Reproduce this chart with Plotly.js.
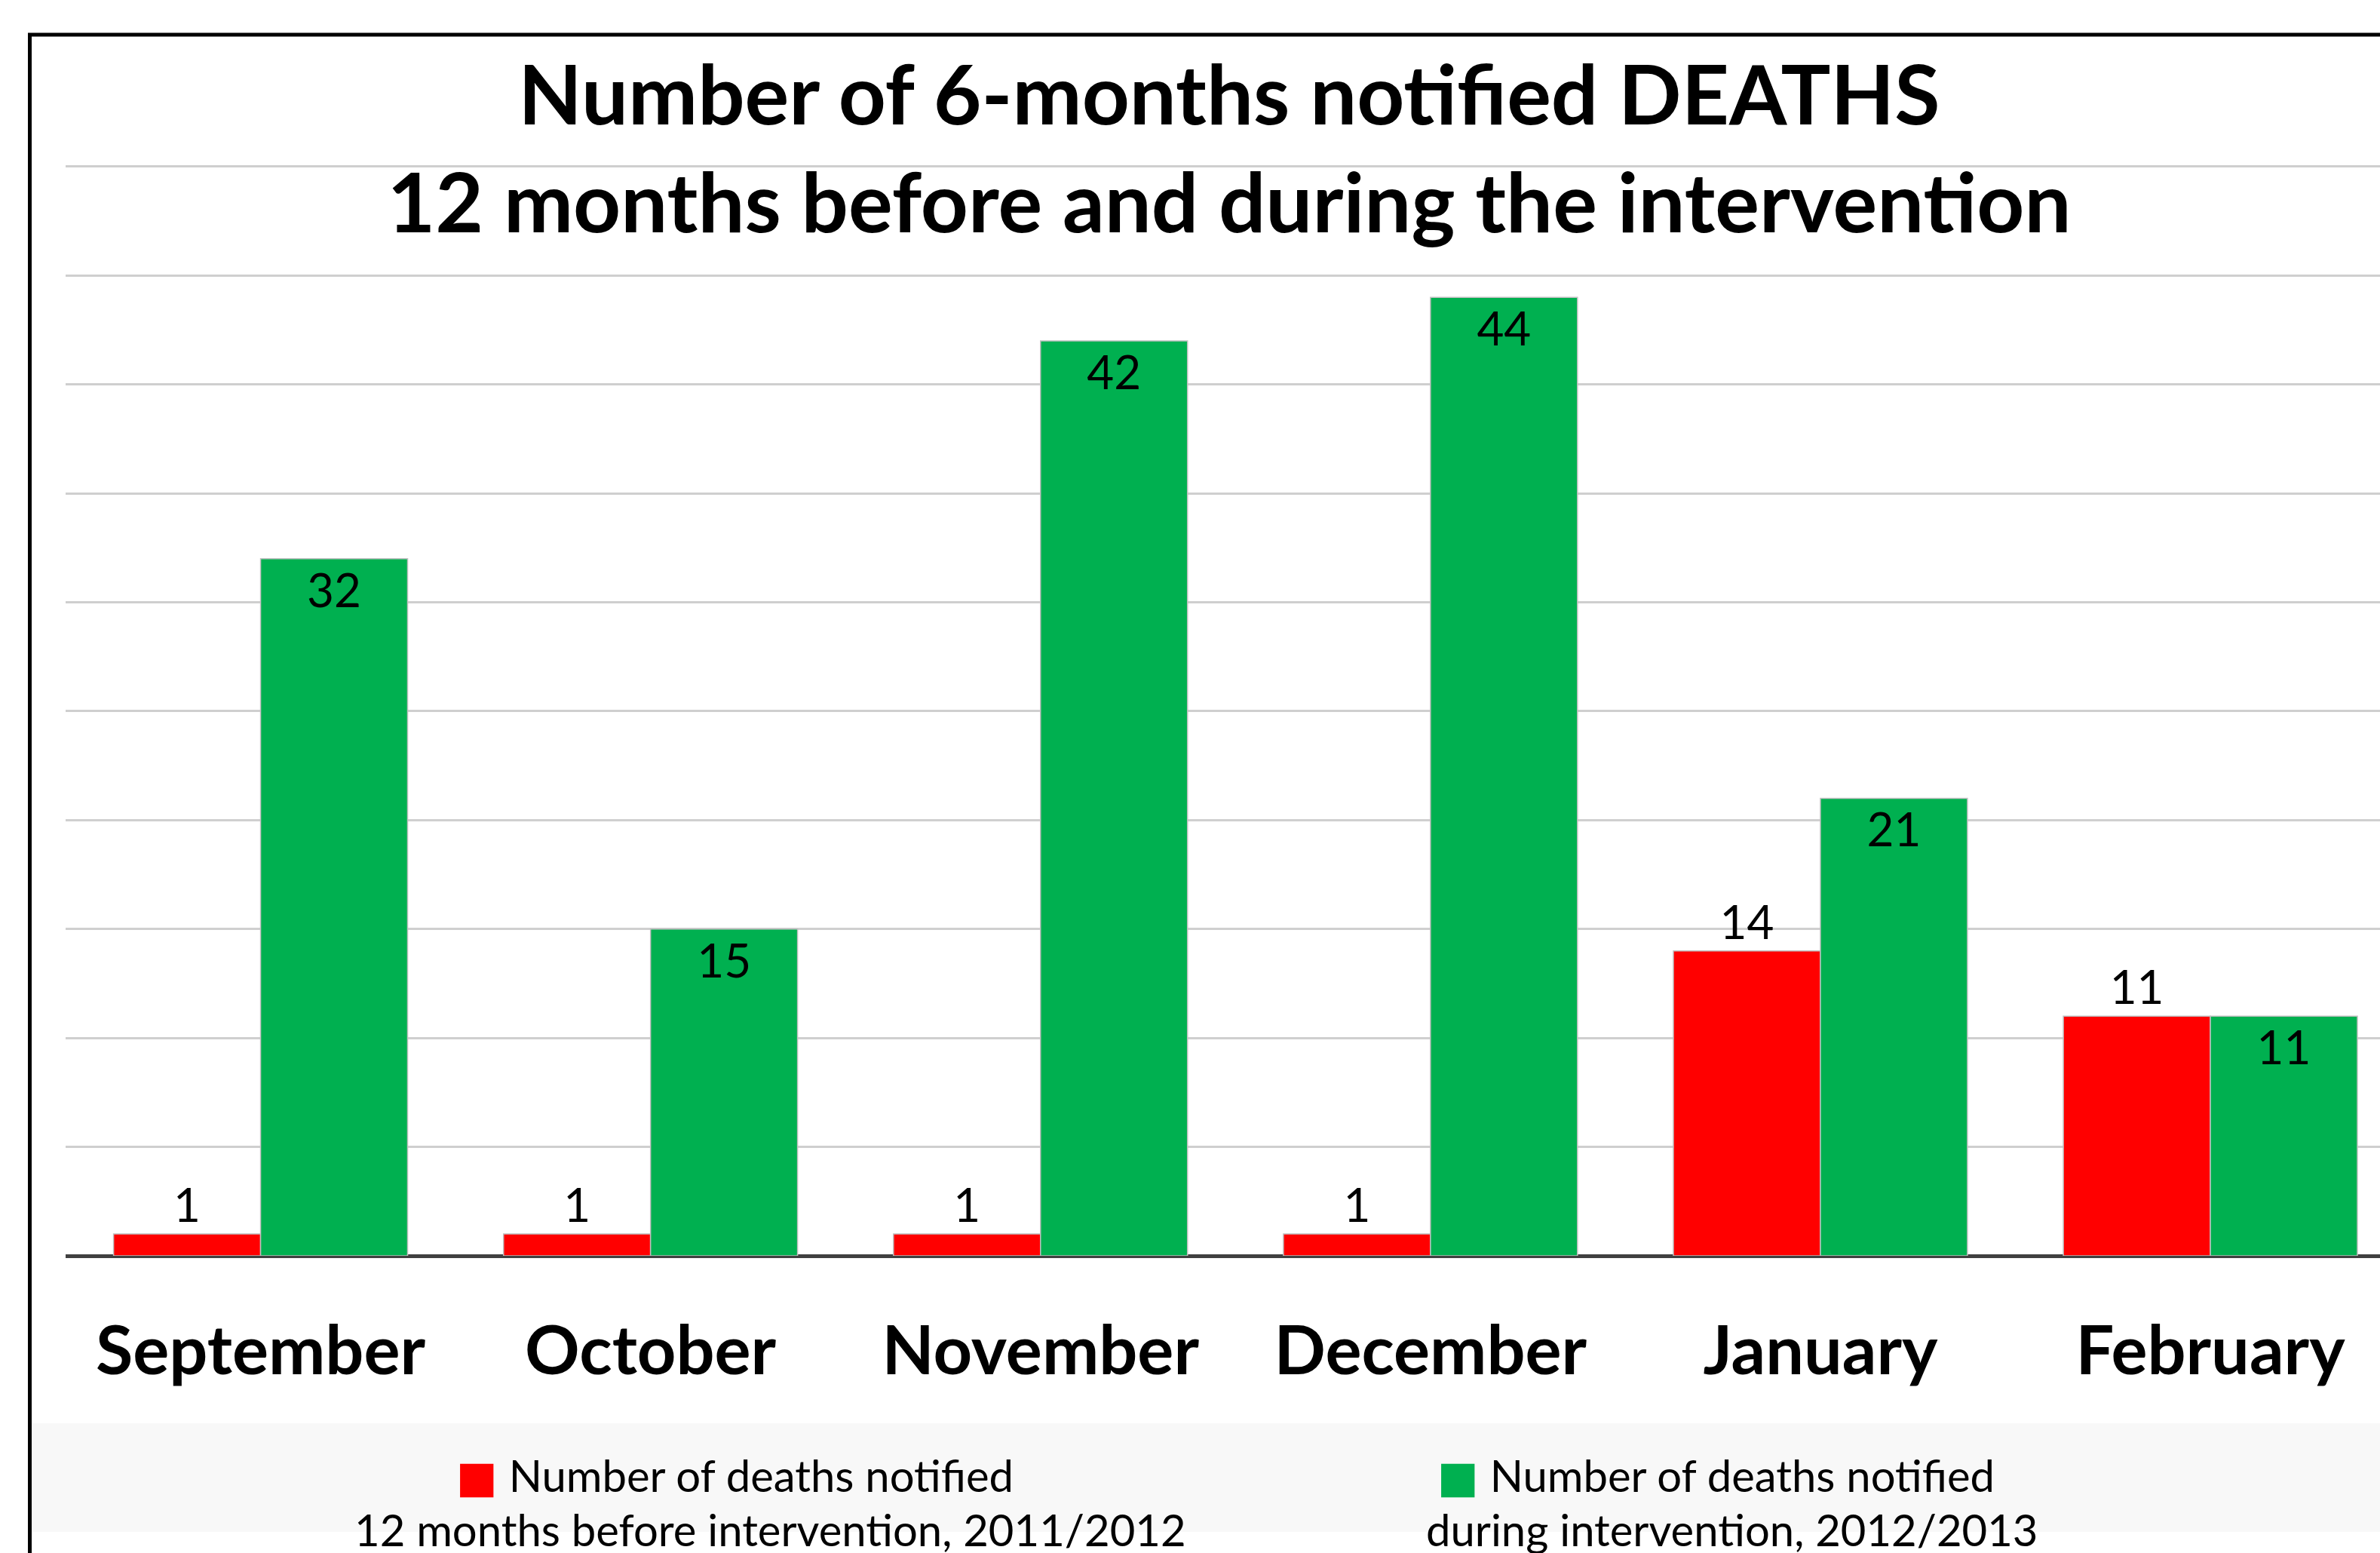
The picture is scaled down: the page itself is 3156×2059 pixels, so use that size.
<!DOCTYPE html>
<html>
<head>
<meta charset="utf-8">
<script src="https://cdn.plot.ly/plotly-3.0.1.min.js"></script>
<style>
html,body{margin:0;padding:0;background:#fff;overflow:hidden;}
#chart{width:3156px;height:2059px;}
</style>
</head>
<body>
<div id="chart"></div>
<script>
// ---- data ----
const months = ["September", "October", "November", "December", "January", "February"];
const beforeValues = [1, 1, 1, 1, 14, 11];
const duringValues = [32, 15, 42, 44, 21, 11];
const beforeName = ["Number of deaths notified", "12 months before intervention, 2011/2012"];
const duringName = ["Number of deaths notified", "during intervention, 2012/2013"];
const titleLines = ["Number of 6-months notified DEATHS", "12 months before and during the intervention"];
const beforeColor = "#FF0000";
const duringColor = "#00B050";

const FONT = "Lato, 'Open Sans', sans-serif";

const traces = [
  {
    type: "bar", x: months, y: beforeValues, name: beforeName.join(" "),
    marker: {color: beforeColor, line: {color: "#bfbfbf", width: 1.5}},
    text: beforeValues.map(String), textposition: "outside",
    textfont: {family: FONT, size: 62, color: "#000"},
    cliponaxis: false, hoverinfo: "skip"
  },
  {
    type: "bar", x: months, y: duringValues, name: duringName.join(" "),
    marker: {color: duringColor, line: {color: "#bfbfbf", width: 1.5}},
    text: duringValues.map(String), textposition: "inside", insidetextanchor: "end",
    textangle: 0,
    textfont: {family: FONT, size: 62, color: "#000"},
    hoverinfo: "skip"
  }
];

const W = 3156, H = 2059, L = 87, T = 218, B = 394;
const pw = W - L, ph = H - T - B;
const px = v => (v - L) / pw;
const py = v => (H - B - v) / ph;

function legendLines(color, lines, x1, x2) {
  const f = {family: FONT, size: 58, color: "#000"};
  return [
    {xref: "paper", yref: "paper", x: px(x1), y: py(1956), xanchor: "center", yanchor: "middle",
     showarrow: false, font: f,
     text: '<span style="color:' + color + ';font-family:DejaVu Sans">■</span> ' + lines[0]},
    {xref: "paper", yref: "paper", x: px(x2), y: py(2027), xanchor: "center", yanchor: "middle",
     showarrow: false, font: f, text: lines[1]}
  ];
}

const layout = {
  width: W, height: H,
  margin: {l: L, r: 0, t: T, b: B, pad: 0},
  paper_bgcolor: "#fff", plot_bgcolor: "#fff",
  showlegend: false,
  barmode: "group", bargap: 0.246, bargroupgap: 0,
  title: {
    text: titleLines.join("<br>"),
    font: {family: FONT, size: 110, color: "#000", weight: "bold"},
    xref: "container", x: 1630 / W, xanchor: "center",
    yref: "container", y: 1 - 165 / H, yanchor: "top"
  },
  xaxis: {
    type: "category", range: [-0.5, 5.435],
    showgrid: false, zeroline: false,
    showline: false,
    ticks: "outside", ticklen: 48, tickcolor: "rgba(0,0,0,0)",
    tickfont: {family: FONT, size: 90, color: "#000", weight: "bold"},
    fixedrange: true
  },
  yaxis: {
    range: [0, 50.1], dtick: 5, tick0: 0,
    showgrid: true, gridcolor: "#cfcfcf", gridwidth: 3,
    zeroline: true, zerolinecolor: "#404040", zerolinewidth: 5,
    showticklabels: false, ticks: "",
    fixedrange: true
  },
  shapes: [
    {type: "rect", xref: "paper", yref: "paper", layer: "below",
     x0: px(42), x1: 1.02, y0: py(1887), y1: py(2031),
     fillcolor: "#f8f8f8", line: {width: 0}},
    {type: "rect", xref: "paper", yref: "paper",
     x0: px(39.5), x1: 1.02, y0: py(46), y1: py(2100),
     fillcolor: "rgba(0,0,0,0)", line: {color: "#000", width: 5}}
  ],
  annotations: [].concat(
    legendLines(beforeColor, beforeName, 974, 1021),
    legendLines(duringColor, duringName, 2275, 2297)
  )
};

Plotly.newPlot("chart", traces, layout, {displayModeBar: false, staticPlot: true});
</script>
</body>
</html>
